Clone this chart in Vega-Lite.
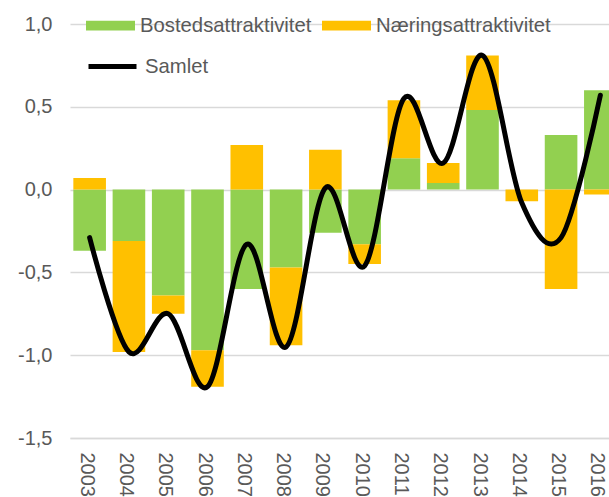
{
  "$schema": "https://vega.github.io/schema/vega-lite/v6.json",
  "width": 539,
  "height": 414,
  "autosize": {"type": "none"},
  "padding": {"left": 70, "top": 24, "right": 0, "bottom": 59},
  "config": {
    "view": {"stroke": null},
    "font": "Liberation Sans",
    "axis": {"labelFont": "Liberation Sans", "labelColor": "#595959", "labelFontSize": 20},
    "legend": {"labelFont": "Liberation Sans", "labelColor": "#595959", "labelFontSize": 20.3, "labelLimit": 400}
  },
  "data": {
    "values": [
      {"year": "2003", "Bostedsattraktivitet": -0.37, "Næringsattraktivitet": 0.07, "Samlet": -0.29},
      {"year": "2004", "Bostedsattraktivitet": -0.31, "Næringsattraktivitet": -0.67, "Samlet": -0.98},
      {"year": "2005", "Bostedsattraktivitet": -0.64, "Næringsattraktivitet": -0.11, "Samlet": -0.75},
      {"year": "2006", "Bostedsattraktivitet": -0.97, "Næringsattraktivitet": -0.22, "Samlet": -1.19},
      {"year": "2007", "Bostedsattraktivitet": -0.6, "Næringsattraktivitet": 0.27, "Samlet": -0.33},
      {"year": "2008", "Bostedsattraktivitet": -0.47, "Næringsattraktivitet": -0.47, "Samlet": -0.95},
      {"year": "2009", "Bostedsattraktivitet": -0.26, "Næringsattraktivitet": 0.24, "Samlet": 0.01},
      {"year": "2010", "Bostedsattraktivitet": -0.33, "Næringsattraktivitet": -0.12, "Samlet": -0.46},
      {"year": "2011", "Bostedsattraktivitet": 0.19, "Næringsattraktivitet": 0.35, "Samlet": 0.55},
      {"year": "2012", "Bostedsattraktivitet": 0.04, "Næringsattraktivitet": 0.12, "Samlet": 0.16},
      {"year": "2013", "Bostedsattraktivitet": 0.48, "Næringsattraktivitet": 0.33, "Samlet": 0.81},
      {"year": "2014", "Bostedsattraktivitet": 0.0, "Næringsattraktivitet": -0.07, "Samlet": -0.08},
      {"year": "2015", "Bostedsattraktivitet": 0.33, "Næringsattraktivitet": -0.6, "Samlet": -0.29},
      {"year": "2016", "Bostedsattraktivitet": 0.6, "Næringsattraktivitet": -0.03, "Samlet": 0.57}
    ]
  },
  "encoding": {
    "x": {
      "field": "year",
      "type": "ordinal",
      "scale": {"range": [0, 550], "paddingInner": 0.17, "paddingOuter": 0.085},
      "axis": {
        "title": null,
        "labelAngle": 90,
        "labelAlign": "left",
        "labelBaseline": "middle",
        "labelPadding": 14,
        "labelOffset": -3,
        "ticks": false,
        "grid": false,
        "domain": true,
        "domainColor": "#d9d9d9",
        "domainWidth": 1.5
      }
    }
  },
  "layer": [
    {
      "transform": [{"fold": ["Bostedsattraktivitet", "Næringsattraktivitet"], "as": ["serie", "verdi"]}],
      "mark": {"type": "bar"},
      "encoding": {
        "y": {
          "field": "verdi",
          "type": "quantitative",
          "stack": "zero",
          "scale": {"domain": [-1.5, 1.0], "nice": false, "zero": false},
          "axis": {
            "title": null,
            "values": [-1.5, -1, -0.5, 0, 0.5, 1],
            "labelExpr": "replace(replace(format(datum.value, '.1f'), '.', ','), '\u2212', '-')",
            "domain": false,
            "ticks": false,
            "grid": true,
            "gridColor": "#d9d9d9",
            "gridWidth": 1.5,
            "labelPadding": 18
          }
        },
        "fill": {
          "field": "serie",
          "type": "nominal",
          "scale": {"domain": ["Bostedsattraktivitet", "Næringsattraktivitet"], "range": ["#92D050", "#FFC000"]},
          "legend": {
            "title": null,
            "orient": "none",
            "legendX": 16,
            "legendY": -23,
            "direction": "horizontal",
            "columns": 2,
            "columnPadding": 10,
            "padding": 0,
            "symbolType": "M-1,-0.2H1V0.2H-1Z",
            "symbolSize": 2401,
            "symbolStrokeWidth": 0,
            "labelOffset": 5
          }
        },
        "order": {"field": "serie", "sort": "ascending"}
      }
    },
    {
      "mark": {"type": "line", "interpolate": "cardinal", "strokeWidth": 5, "strokeCap": "round", "strokeJoin": "round"},
      "encoding": {
        "y": {"field": "Samlet", "type": "quantitative"},
        "stroke": {
          "datum": "Samlet",
          "type": "nominal",
          "scale": {"domain": ["Samlet"], "range": ["black"]},
          "legend": {
            "title": null,
            "orient": "none",
            "legendX": 16,
            "legendY": 16,
            "padding": 0,
            "symbolType": "stroke",
            "symbolSize": 2304,
            "symbolStrokeWidth": 5,
            "labelOffset": 6
          }
        }
      }
    }
  ]
}
